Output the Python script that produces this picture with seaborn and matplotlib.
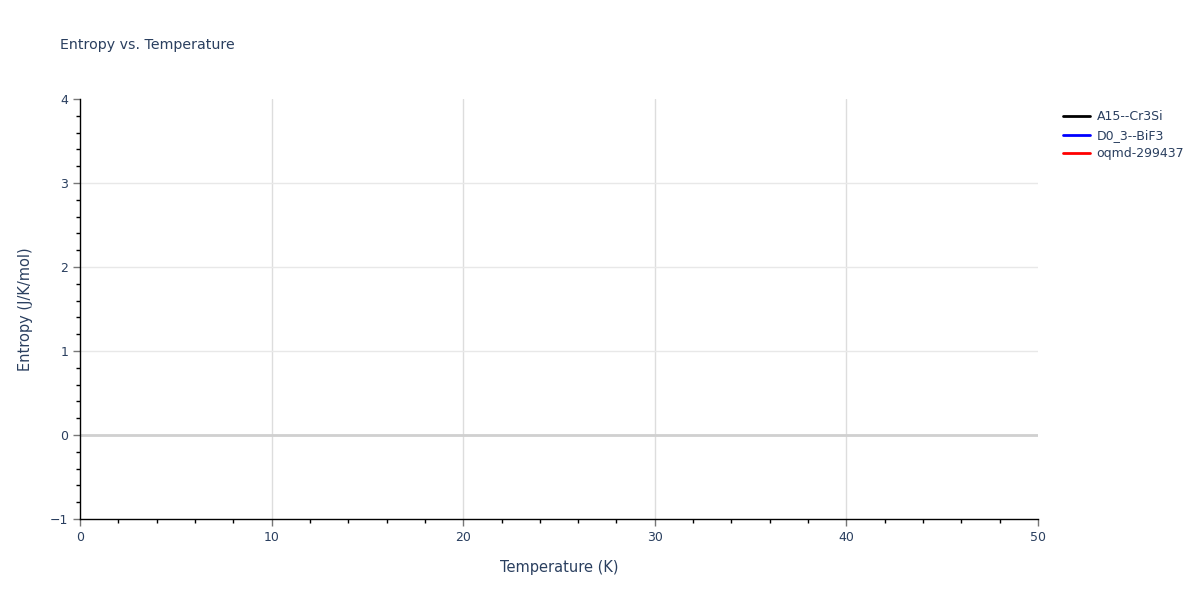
import matplotlib
matplotlib.use('Agg')
import matplotlib.pyplot as plt
import seaborn as sns
from matplotlib.ticker import MultipleLocator

# the reference shows no data points, only the legend entries
temperatura = []
series = ['A15--Cr3Si', 'D0_3--BiF3', 'oqmd-299437']
entropia = {
    'A15--Cr3Si': [],
    'D0_3--BiF3': [],
    'oqmd-299437': [],
}
cores = {'A15--Cr3Si': 'black', 'D0_3--BiF3': 'blue', 'oqmd-299437': 'red'}

sns.set_style('white')
plt.rcParams['font.family'] = ['DejaVu Sans']
texto = '#2a3f5f'

fig = plt.figure(figsize=(12, 6), dpi=100)
ax = fig.add_axes([80 / 1200, 1 - 519 / 600, 958 / 1200, 420 / 600])

for nome in series:
    ax.plot(temperatura, entropia[nome], color=cores[nome], linewidth=2, label=nome)

ax.set_xlim(0, 50)
ax.set_ylim(-1, 4)
ax.xaxis.set_major_locator(MultipleLocator(10))
ax.xaxis.set_minor_locator(MultipleLocator(2))
ax.yaxis.set_major_locator(MultipleLocator(1))
ax.yaxis.set_minor_locator(MultipleLocator(0.2))

ax.grid(True, which='major', axis='x', color='#dddddd', linewidth=1)
ax.grid(True, which='major', axis='y', color='#e8e8e8', linewidth=1)
ax.axhline(0, color='#d0d0d0', linewidth=2, zorder=1)

# no grid lines on the outer edges (like plotly)
fig.canvas.draw()
for tick in ax.xaxis.get_major_ticks():
    if tick.get_loc() in (0, 50):
        tick.gridline.set_visible(False)
for tick in ax.yaxis.get_major_ticks():
    if tick.get_loc() in (-1, 4):
        tick.gridline.set_visible(False)

for lado in ['top', 'right']:
    ax.spines[lado].set_visible(False)
for lado in ['left', 'bottom']:
    ax.spines[lado].set_color('black')
    ax.spines[lado].set_linewidth(1)

ax.tick_params(which='major', direction='out', length=5, width=1, color='#777777',
               labelsize=9, labelcolor=texto, bottom=True, left=True)
ax.tick_params(which='minor', direction='out', length=3, width=1, color='black',
               bottom=True, left=True)

ax.set_xlabel('Temperature (K)', fontsize=10.5, color=texto, labelpad=12)
ax.set_ylabel('Entropy (J/K/mol)', fontsize=10.5, color=texto, labelpad=12)
fig.text(60 / 1200, 1 - 45 / 600, 'Entropy vs. Temperature', fontsize=10.2,
         color=texto, va='center', ha='left')

leg = ax.legend(loc='upper left', bbox_to_anchor=(1.014, 1.0), frameon=False,
                fontsize=9, handlelength=2.2, handletextpad=0.5, labelspacing=0.45)
for t in leg.get_texts():
    t.set_color(texto)

fig.savefig('out.png', dpi=100)
